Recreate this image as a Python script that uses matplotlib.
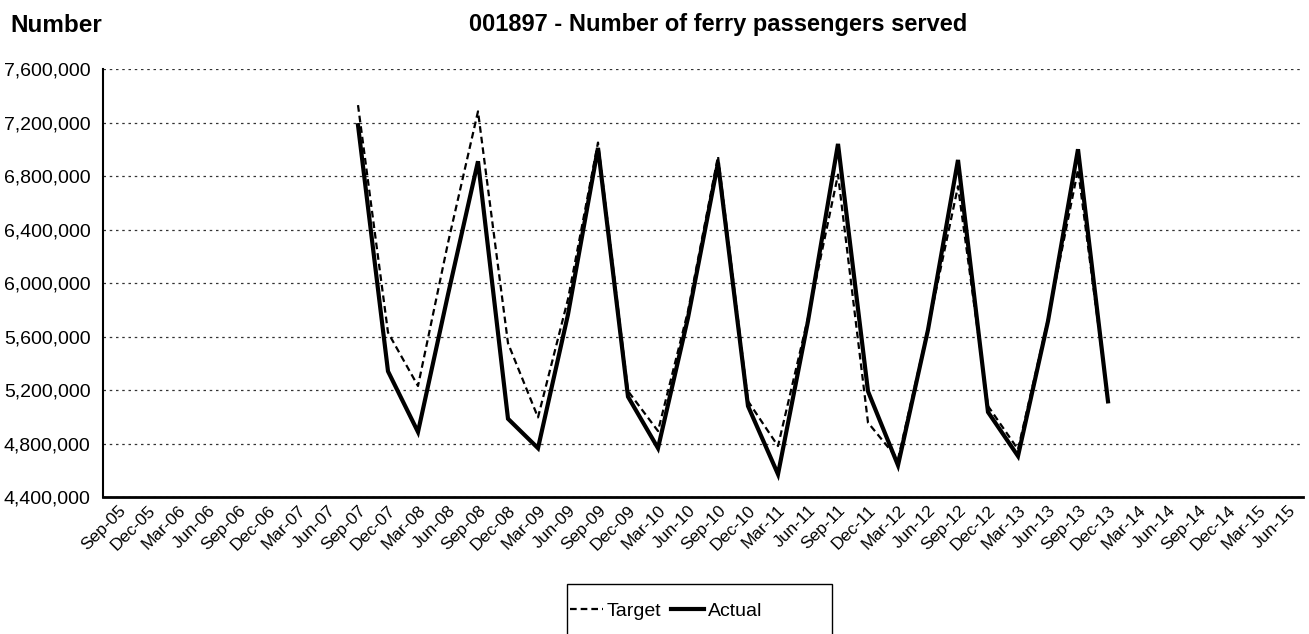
import matplotlib
matplotlib.use("Agg")
import matplotlib.pyplot as plt
import matplotlib.transforms as mtransforms
from matplotlib.patches import Rectangle
from matplotlib.ticker import FuncFormatter

plt.rcParams['font.family'] = ['Liberation Sans', 'DejaVu Sans']

categories = ["Sep-05", "Dec-05", "Mar-06", "Jun-06", "Sep-06", "Dec-06", "Mar-07", "Jun-07",
              "Sep-07", "Dec-07", "Mar-08", "Jun-08", "Sep-08", "Dec-08", "Mar-09", "Jun-09",
              "Sep-09", "Dec-09", "Mar-10", "Jun-10", "Sep-10", "Dec-10", "Mar-11", "Jun-11",
              "Sep-11", "Dec-11", "Mar-12", "Jun-12", "Sep-12", "Dec-12", "Mar-13", "Jun-13",
              "Sep-13", "Dec-13", "Mar-14", "Jun-14", "Sep-14", "Dec-14", "Mar-15", "Jun-15"]

# Data series start at Sep-07
data_start = "Sep-07"
target = [7330000, 5630000, 5230000, 6300000, 7283000, 5550000, 4995000, 5880000,
          7050000, 5192000, 4893000, 5790000, 6947000, 5117000, 4781000, 5740000,
          6810000, 4956000, 4682000, 5660000, 6723000, 5080000, 4756000, 5730000,
          6848000, 5130000]
actual = [7180000, 5340000, 4886000, 5914000, 6910000, 4985000, 4765000, 5765000,
          7010000, 5150000, 4765000, 5740000, 6898000, 5080000, 4570000, 5715000,
          7040000, 5190000, 4637000, 5650000, 6920000, 5035000, 4706000, 5715000,
          7000000, 5115000]
y_ticks = [4400000, 4800000, 5200000, 5600000, 6000000, 6400000, 6800000, 7200000, 7600000]

W, H = 1309, 634
fig = plt.figure(figsize=(W / 100, H / 100), dpi=100)
ax = fig.add_axes([103 / W, 1 - 497 / H, 1200 / W, 428 / H])

s = categories.index(data_start)
xt = list(range(s, s + len(target)))
xa = list(range(s, s + len(actual)))

ax.plot(xt, target, color='black', lw=1.6, linestyle=(0, (3, 1.8)), label='Target', zorder=3)
ax.plot(xa, actual, color='black', lw=3.0, solid_joinstyle='miter', label='Actual', zorder=4)

ax.set_xlim(-0.5, len(categories) - 0.5)
ax.set_ylim(y_ticks[0], y_ticks[-1])
ax.set_yticks(y_ticks)
ax.yaxis.set_major_formatter(FuncFormatter(lambda v, p: f"{int(v):,}"))
ax.set_xticks(range(len(categories)))
ax.set_xticklabels(categories, rotation=45, ha='right', va='center', rotation_mode='anchor')
ax.tick_params(axis='x', length=0, pad=8, labelsize=12.5)
ax.tick_params(axis='y', length=0, pad=9, labelsize=14)
shift = mtransforms.ScaledTranslation(5 / 100, 0, fig.dpi_scale_trans)
for lab in ax.get_xticklabels():
    lab.set_transform(lab.get_transform() + shift)

ax.grid(axis='y', color='#333333', linestyle=(0, (2, 3)), linewidth=0.9)
ax.set_axisbelow(True)
for sp in ['top', 'right']:
    ax.spines[sp].set_visible(False)
ax.spines['left'].set_linewidth(1.5)
ax.spines['bottom'].set_linewidth(2.0)

fig.text(10 / W, 1 - 25 / H, "Number", fontsize=17.5, fontweight='bold', ha='left', va='center')
fig.text(718 / W, 1 - 25 / H, "001897 - Number of ferry passengers served", fontsize=17,
         fontweight='bold', ha='center', va='center')

fig.patches.append(Rectangle((567 / W, -0.05), 265 / W, 0.05 + (634 - 584) / H,
                             transform=fig.transFigure, fill=False, edgecolor='black', lw=1.0))
fig.legend(loc='center left', bbox_to_anchor=(570 / W, 1 - 611 / H), ncol=2, frameon=False,
           fontsize=14, handlelength=1.7, columnspacing=0.5, handletextpad=0.2,
           borderaxespad=0, borderpad=0)

fig.savefig("out.png", dpi=100)
